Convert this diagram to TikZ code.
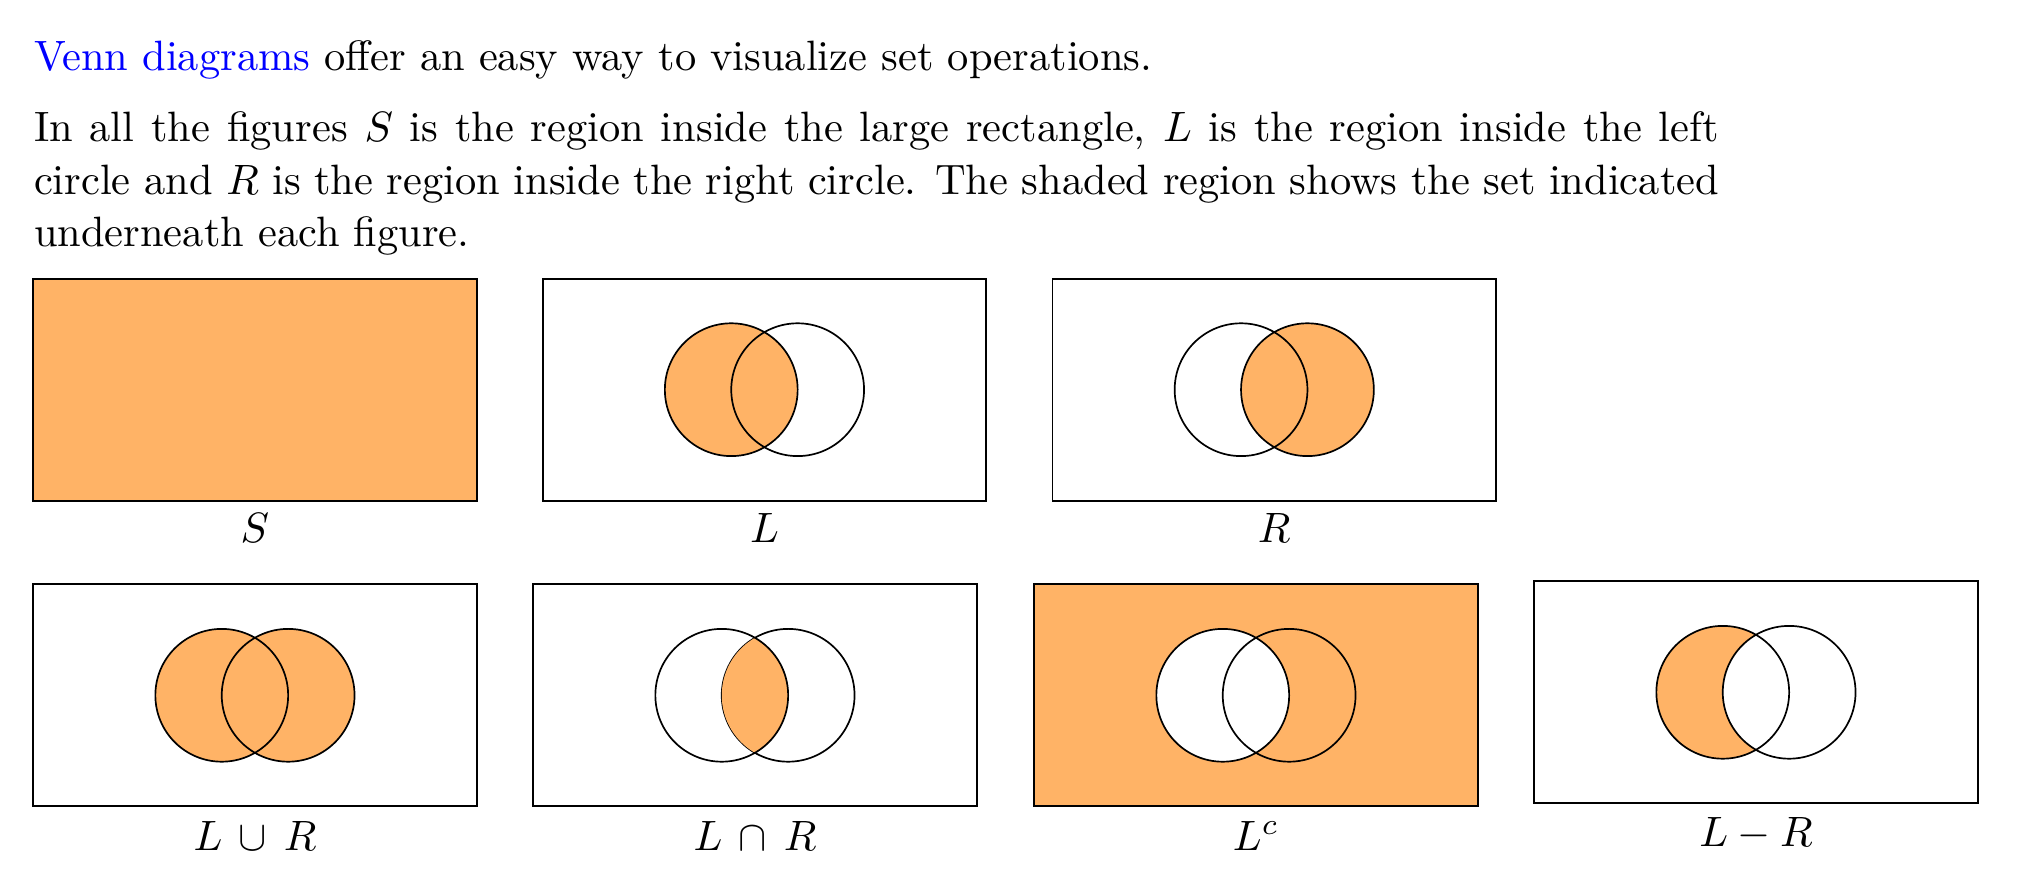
\documentclass[tikz,border=0pt]{standalone}
\usepackage{xcolor}
\usepackage{graphicx}
\newlength\pxu
\setlength\pxu{0.2657pt}
\newlength\rlen
\setlength\rlen{66.4\pxu}
\definecolor{vennfill}{RGB}{255,179,102}
\newcommand\sbx[1]{\scalebox{1.128}{#1}}
\begin{document}
\begin{tikzpicture}[x=\pxu,y=-\pxu,
  boxline/.style={draw=black,line width=0.45pt},
  circline/.style={draw=black,line width=0.45pt},
  lbl/.style={anchor=base,inner sep=0pt},
  txt/.style={anchor=base west,inner sep=0pt}]
\useasboundingbox (0,0) rectangle (2030,886);
% text
\node[txt] (t0) at (33.3,70.7) {\sbx{\textcolor{blue}{Venn diagrams} offer an easy way to visualize set operations.}};
\node[txt] (t1) at (33.3,141.7) {\sbx{\makebox[396.9pt][s]{In all the figures $S$ is the region inside the large rectangle, $L$ is the region inside the left}}};
\node[txt] (t2) at (33.3,194.4) {\sbx{\makebox[396.9pt][s]{circle and $R$ is the region inside the right circle. The shaded region shows the set indicated}}};
\node[txt] (t3) at (33.3,247) {\sbx{underneath each figure.}};
% S
\begin{scope}[shift={(33.2,278.7)}]
  \fill[vennfill] (0,0) rectangle (443.5,222);
  \draw[boxline] (0,0) rectangle (443.5,222);
  \node[lbl] (lS) at (221.75,264.3) {\sbx{$S$}};
\end{scope}
% L
\begin{scope}[shift={(542.7,278.7)}]
  \fill[vennfill] (188.55,111) circle[radius=\rlen];
  \draw[circline] (188.55,111) circle[radius=\rlen];
  \draw[circline] (254.95,111) circle[radius=\rlen];
  \draw[boxline] (0,0) rectangle (443.5,222);
  \node[lbl] (lL) at (221.75,264.3) {\sbx{$L$}};
\end{scope}
% R
\begin{scope}[shift={(1052.5,278.7)}]
  \fill[vennfill] (254.95,111) circle[radius=\rlen];
  \draw[circline] (188.55,111) circle[radius=\rlen];
  \draw[circline] (254.95,111) circle[radius=\rlen];
  \draw[boxline] (0,0) rectangle (443.5,222);
  \node[lbl] (lR) at (221.75,264.3) {\sbx{$R$}};
\end{scope}
% L cup R
\begin{scope}[shift={(33.2,584.3)}]
  \fill[vennfill] (188.55,111) circle[radius=\rlen];
  \fill[vennfill] (254.95,111) circle[radius=\rlen];
  \draw[circline] (188.55,111) circle[radius=\rlen];
  \draw[circline] (254.95,111) circle[radius=\rlen];
  \draw[boxline] (0,0) rectangle (443.5,222);
  \node[lbl] (lU) at (221.75,265.7) {\sbx{$L\,\cup\,R$}};
\end{scope}
% L cap R
\begin{scope}[shift={(533.2,584.3)}]
  \draw[circline] (254.95,111) circle[radius=\rlen];
  \begin{scope}
    \clip (188.55,111) circle[radius=\rlen];
    \fill[vennfill] (254.95,111) circle[radius=\rlen];
  \end{scope}
  \draw[circline] (188.55,111) circle[radius=\rlen];
  \draw[boxline] (0,0) rectangle (443.5,222);
  \node[lbl] (lI) at (221.75,265.7) {\sbx{$L\,\cap\,R$}};
\end{scope}
% L^c
\begin{scope}[shift={(1034.2,584.3)}]
  \fill[vennfill] (0,0) rectangle (443.5,222);
  \fill[white] (188.55,111) circle[radius=\rlen];
  \draw[circline] (188.55,111) circle[radius=\rlen];
  \draw[circline] (254.95,111) circle[radius=\rlen];
  \draw[boxline] (0,0) rectangle (443.5,222);
  \node[lbl] (lC) at (221.75,265.7) {\sbx{$L^c$}};
\end{scope}
% L - R
\begin{scope}[shift={(1534.2,581.3)}]
  \fill[vennfill] (188.55,111) circle[radius=\rlen];
  \fill[white] (254.95,111) circle[radius=\rlen];
  \draw[circline] (188.55,111) circle[radius=\rlen];
  \draw[circline] (254.95,111) circle[radius=\rlen];
  \draw[boxline] (0,0) rectangle (443.5,222);
  \node[lbl] (lD) at (221.75,265.4) {\sbx{$L-R$}};
\end{scope}
\end{tikzpicture}
\end{document}
